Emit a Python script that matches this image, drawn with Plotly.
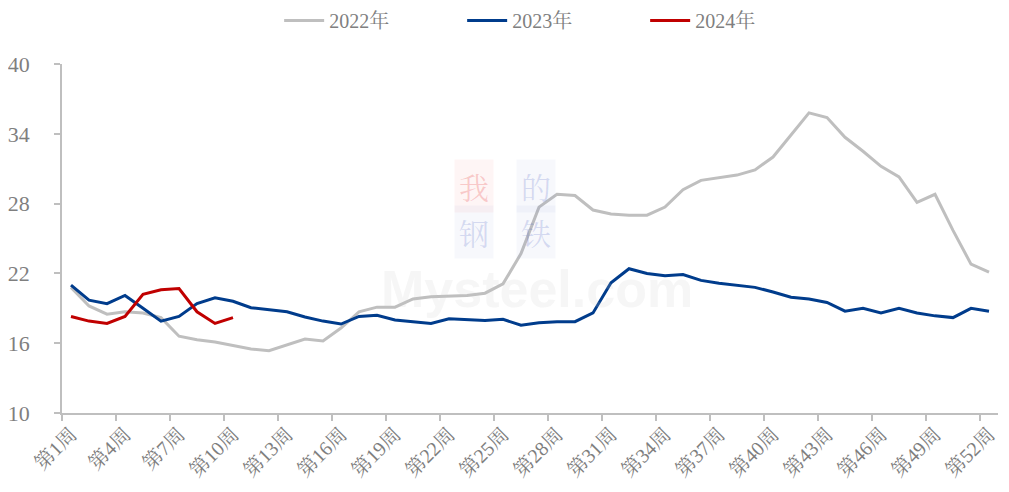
import plotly.graph_objects as go

# weekly values
weeks = [f"第{i}周" for i in range(1, 53)]

y2022 = [20.8, 19.2, 18.5, 18.7, 18.6, 18.2, 16.6, 16.3, 16.1, 15.8,
         15.5, 15.35, 15.85, 16.35, 16.2, 17.3, 18.7, 19.1, 19.1, 19.8,
         20.0, 20.05, 20.1, 20.3, 21.1, 23.7, 27.7, 28.8, 28.7, 27.45,
         27.1, 27.0, 27.0, 27.7, 29.2, 30.0, 30.2, 30.45, 30.9, 32.0,
         33.9, 35.8, 35.4, 33.7, 32.5, 31.2, 30.3, 28.1, 28.8, 25.7,
         22.8, 22.1]
y2023 = [21.0, 19.7, 19.4, 20.1, 19.0, 17.9, 18.3, 19.4, 19.9, 19.6,
         19.05, 18.85, 18.7, 18.25, 17.9, 17.65, 18.3, 18.4, 18.0, 17.85,
         17.7, 18.1, 18.0, 17.95, 18.05, 17.55, 17.75, 17.85, 17.85, 18.6,
         21.2, 22.4, 22.0, 21.8, 21.9, 21.4, 21.15, 21.0, 20.8, 20.4,
         19.95, 19.8, 19.5, 18.75, 19.0, 18.6, 19.0, 18.6, 18.35, 18.2,
         19.0, 18.75]
y2024 = [18.3, 17.9, 17.7, 18.3, 20.2, 20.6, 20.7, 18.7, 17.7, 18.2]

series = [("2022年", y2022, "#BFBFBF"),
          ("2023年", y2023, "#003C8C"),
          ("2024年", y2024, "#C00000")]

yticks = [10, 16, 22, 28, 34, 40]

FONT = "Liberation Serif, Noto Serif CJK SC, Noto Sans CJK SC, serif"
GREY = "#7F7F7F"
AXIS = "#BFBFBF"

fig = go.Figure()

for name, vals, color in series:
    fig.add_trace(
        go.Scatter(
            x=list(range(1, len(vals) + 1)),
            y=vals,
            mode="lines",
            name=name,
            line=dict(color=color, width=3),
        )
    )

# faint watermark (我的钢铁 / Mysteel.com)
fig.add_annotation(x=0.507, y=0.355, xref="paper", yref="paper",
                   text="<b>Mysteel.com</b>", showarrow=False,
                   font=dict(family="Liberation Sans", size=52, color="rgba(200,200,200,0.16)"))
wm = [("我", 0.44, 0.65, "rgba(235,90,90,0.28)", "rgba(235,90,90,0.06)"),
      ("的", 0.506, 0.65, "rgba(90,110,200,0.22)", "rgba(90,110,200,0.05)"),
      ("钢", 0.44, 0.52, "rgba(90,110,200,0.22)", "rgba(90,110,200,0.05)"),
      ("铁", 0.506, 0.52, "rgba(90,110,200,0.22)", "rgba(90,110,200,0.05)")]
for txt, xx, yy, fc, bg in wm:
    fig.add_annotation(x=xx, y=yy, xref="paper", yref="paper", text=txt,
                       showarrow=False, bgcolor=bg, borderpad=4,
                       font=dict(family="Noto Serif CJK SC, Noto Sans CJK SC", size=30, color=fc))

# the page body adds 8px around the figure, so size/margins account for that
fig.update_layout(
    width=993,
    height=476,
    margin=dict(l=54, r=3, t=56, b=71),
    plot_bgcolor="white",
    paper_bgcolor="white",
    font=dict(family=FONT, color=GREY),
    showlegend=True,
    legend=dict(
        orientation="h",
        x=0.232,
        xanchor="left",
        yref="container",
        y=0.974,
        yanchor="middle",
        font=dict(size=20, color=GREY),
        entrywidth=128,
        entrywidthmode="pixels",
        itemwidth=40,
    ),
    xaxis=dict(
        range=[0.5, 52.5],
        tickmode="array",
        tickvals=list(range(1, 53, 3)),
        ticktext=weeks[::3],
        tickangle=-45,
        tickfont=dict(size=20, color=GREY),
        ticks="",
        showgrid=False,
        zeroline=False,
        showline=True,
        linecolor=AXIS,
        linewidth=1.5,
        automargin=False,
        minor=dict(
            tickmode="array",
            tickvals=[0.5 + 3 * k for k in range(18)],
            ticks="outside",
            ticklen=6,
            tickcolor=AXIS,
            tickwidth=1.5,
            showgrid=False,
        ),
    ),
    yaxis=dict(
        range=[10, 40],
        tickmode="array",
        tickvals=yticks,
        tickfont=dict(size=22, color=GREY),
        ticks="outside",
        ticklen=6,
        tickcolor=AXIS,
        tickwidth=1.5,
        ticklabelstandoff=20,
        showgrid=False,
        zeroline=False,
        showline=True,
        linecolor=AXIS,
        linewidth=1.5,
        automargin=False,
    ),
)

fig.write_html("out.html")
